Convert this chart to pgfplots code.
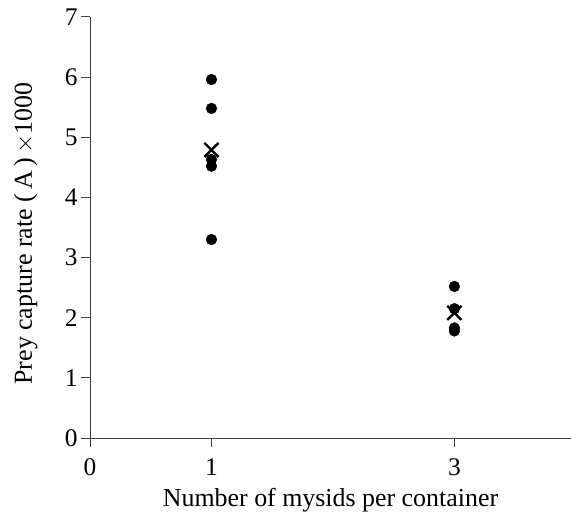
\documentclass[border=0pt]{standalone}
\usepackage{fontspec}
\setmainfont{Liberation Serif}
\usepackage{pgfplots}
\pgfplotsset{compat=1.18}
\begin{document}
\begin{tikzpicture}
\begin{axis}[
  name=ax,
  scale only axis,
  width=481bp, height=421bp,
  xmin=0, xmax=3.96, ymin=0, ymax=7,
  axis x line=bottom, axis y line=left,
  axis line style={-, black!75, line width=1pt},
  xtick={0,1,3}, ytick={0,1,...,7},
  tick align=outside, major tick length=9bp,
  tick style={black!75, line width=1pt},
  /pgf/number format/assume math mode=true,
  ticklabel style={font=\fontsize{25.5}{30}\selectfont},
  xticklabel style={yshift=-8bp},
  xlabel={Number of mysids per container},
  ylabel={Prey capture rate (\,A\,)\,$\times$1000},
  every axis x label/.style={at={(axis description cs:0.5,0)}, yshift=-68bp, anchor=base, font=\fontsize{26}{31}\selectfont},
  every axis y label/.style={at={(axis description cs:0,0.5)}, xshift=-58bp, yshift=-6bp, rotate=90, anchor=base, font=\fontsize{26}{31}\selectfont},
  clip=false,
]
\addplot[only marks, mark=*, mark size=5.4bp, black] coordinates {
  (1,5.96) (1,5.48) (1,4.63) (1,4.52) (1,3.30)
  (3,2.52) (3,2.15) (3,1.83) (3,1.78)
};
\addplot[only marks, mark=x, mark size=10bp, black, line width=2.4pt] coordinates {
  (1,4.79) (3,2.08)
};
\end{axis}
\pgfresetboundingbox
\path[use as bounding box] ([xshift=-90bp,yshift=-78bp]ax.south west) rectangle ([yshift=17bp]ax.north east);
\end{tikzpicture}
\end{document}
